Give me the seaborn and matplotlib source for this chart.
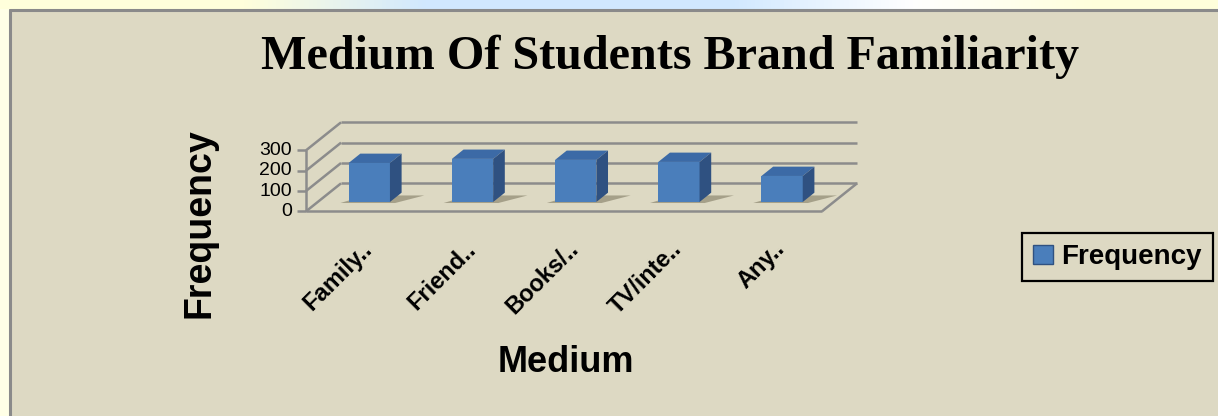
import matplotlib
matplotlib.use("Agg")
import matplotlib.pyplot as plt
import seaborn as sns
import numpy as np
from matplotlib.patches import Polygon, Rectangle, Patch
from matplotlib.lines import Line2D

# ---- data ----
categories = ["Family..", "Friend..", "Books/..", "TV/inte..", "Any.."]
values = [192, 212, 207, 197, 128]
yticks = [0, 100, 200, 300]
title = "Medium Of Students Brand Familiarity"
xlabel = "Medium"
ylabel = "Frequency"
series_name = "Frequency"

W, H = 1218, 416
BG = "#DDD9C3"
GRID = "#8C8C8C"
FRONT = "#4A7EBB"
SIDE = "#2F5181"
TOP = "#3C6AA6"

sns.set_theme(style="white")
plt.rcParams["font.family"] = ["Liberation Sans", "DejaVu Sans"]
plt.rcParams["text.color"] = "black"

fig = plt.figure(figsize=(W / 100, H / 100), dpi=100)
fig.patch.set_facecolor(BG)

def fx(px):
    return px / W

def fy(py):
    return 1 - py / H

# decorative outer strip (top and left) + border
grad_ax = fig.add_axes([0, fy(9), 1, 9 / H])
grad = np.zeros((1, 300, 3))
xs = np.linspace(0, 1, 300)
c_y = np.array([1.0, 1.0, 0.86])
c_b = np.array([0.82, 0.91, 1.0])
c_w = np.array([1.0, 1.0, 1.0])
for i, t in enumerate(xs):
    if t < 0.2:
        c = c_y
    elif t < 0.35:
        c = c_y + (c_b - c_y) * (t - 0.2) / 0.15
    elif t < 0.6:
        c = c_b
    elif t < 0.75:
        c = c_b + (c_w - c_b) * (t - 0.6) / 0.15
    elif t < 0.9:
        c = c_w + (c_y - c_w) * (t - 0.75) / 0.15
    else:
        c = c_y
    grad[0, i] = c
grad_ax.imshow(grad, aspect="auto", extent=[0, 1, 0, 1])
grad_ax.set_axis_off()
fig.patches.append(Rectangle((0, 0), fx(9), fy(9), transform=fig.transFigure,
                             facecolor="#FFFFE6", edgecolor="none", zorder=0))
fig.add_artist(Line2D([fx(10), 1], [fy(10), fy(10)], color="#8A8A8A", lw=2.2,
                      transform=fig.transFigure))
fig.add_artist(Line2D([fx(10), fx(10)], [0, fy(10)], color="#8A8A8A", lw=2.2,
                      transform=fig.transFigure))

# ---- main axes: bar plane (mid-depth) ----
L, R = 317.7, 833.7
y0, y300 = 202, 141
ax = fig.add_axes([fx(L), fy(y0), (R - L) / W, (y0 - y300) / H])
ax.set_facecolor("none")
sns.barplot(x=categories, y=values, color=FRONT, width=0.4, saturation=1,
            ax=ax, zorder=5)
ax.set_xlim(-0.5, 4.5)
ax.set_ylim(0, 300)
ax.set_axis_off()

n = len(categories)
pxu = (R - L) / n          # px per x unit
pyu = (y0 - y300) / 300.0  # px per y unit
depth_dx = 35 / pxu
depth_dy = 28 / pyu
FX, FY = -depth_dx / 3, -depth_dy / 3
BX, BY = 2 * depth_dx / 3, 2 * depth_dy / 3
xl, xr = -0.5, n - 0.5
lk = dict(color=GRID, lw=1.8, clip_on=False, zorder=1, solid_capstyle="butt")

# back wall gridlines
for v in yticks:
    ax.plot([xl + BX, xr + BX], [v + BY, v + BY], **lk)
    ax.plot([xl + FX, xl + BX], [v + FY, v + BY], **lk)
# floor front and right edge
ax.plot([xl + FX, xr + FX], [FY, FY], **lk)
ax.plot([xr + FX, xr + BX], [FY, BY], **lk)
# value axis line and ticks
ax.plot([xl + FX, xl + FX], [FY, 300 + FY], **lk)
tk = 9 / pxu
for v in yticks:
    ax.plot([xl + FX - tk, xl + FX], [v + FY, v + FY], **lk)
    ax.text(xl + FX - 14 / pxu, v + FY, str(v), ha="right", va="center",
            fontsize=14, color="black")

# 3D faces + shadows derived from the seaborn bars
bdx, bdy = depth_dx / 3, depth_dy / 3
for p in ax.patches:
    x, w, h = p.get_x(), p.get_width(), p.get_height()
    p.set_edgecolor("none")
    sh = Polygon([(x - 0.08, -5), (x + w + 0.05, -5),
                  (x + w + bdx + 0.22, bdy * 0.7), (x + bdx + 0.05, bdy * 0.7)],
                 closed=True, facecolor="#6E6850", alpha=0.5,
                 edgecolor="none", zorder=3, clip_on=False)
    ax.add_patch(sh)
    top = Polygon([(x, h), (x + w, h), (x + w + bdx, h + bdy), (x + bdx, h + bdy)],
                  closed=True, facecolor=TOP, edgecolor="none", zorder=6,
                  clip_on=False)
    side = Polygon([(x + w, 0), (x + w + bdx, bdy), (x + w + bdx, h + bdy),
                    (x + w, h)], closed=True, facecolor=SIDE, edgecolor="none",
                   zorder=6, clip_on=False)
    ax.add_patch(top)
    ax.add_patch(side)
    p.set_clip_on(False)

# category labels
for i, lab in enumerate(categories):
    ax.text(i - 0.085, FY - 26 / pyu, lab, rotation=45, ha="right", va="top",
            rotation_mode="anchor", fontsize=17, fontweight="bold",
            color="black")

# axis titles
fig.text(fx(566), fy(362), xlabel, ha="center", va="center", fontsize=26,
         fontweight="bold", color="black")
fig.text(fx(200), fy(223), ylabel, ha="center", va="center", fontsize=27,
         fontweight="bold", rotation=90, color="black")

# chart title fitted to its width
t = fig.text(fx(670), fy(57), title, ha="center", va="center", fontsize=30,
             fontweight="bold", family=["Liberation Serif", "DejaVu Serif"],
             color="black")
fig.canvas.draw()
bb = t.get_window_extent()
t.set_fontsize(30 * 816 / bb.width)

# legend
handle = Patch(facecolor=FRONT, edgecolor="#2F5181", label=series_name)
leg = fig.legend(handles=[handle], loc="upper left",
                 bbox_to_anchor=(fx(1022), fy(233)), bbox_transform=fig.transFigure,
                 frameon=True, fancybox=False,
                 prop={"weight": "bold", "size": 20}, labelcolor="black",
                 handlelength=0.7, handleheight=0.7, handletextpad=0.3,
                 borderpad=0.4, borderaxespad=0)
fr = leg.get_frame()
fr.set_edgecolor("black")
fr.set_linewidth(1.6)
fr.set_facecolor(BG)
fr.set_alpha(1)

fig.savefig("out.png", dpi=100, facecolor=BG)
